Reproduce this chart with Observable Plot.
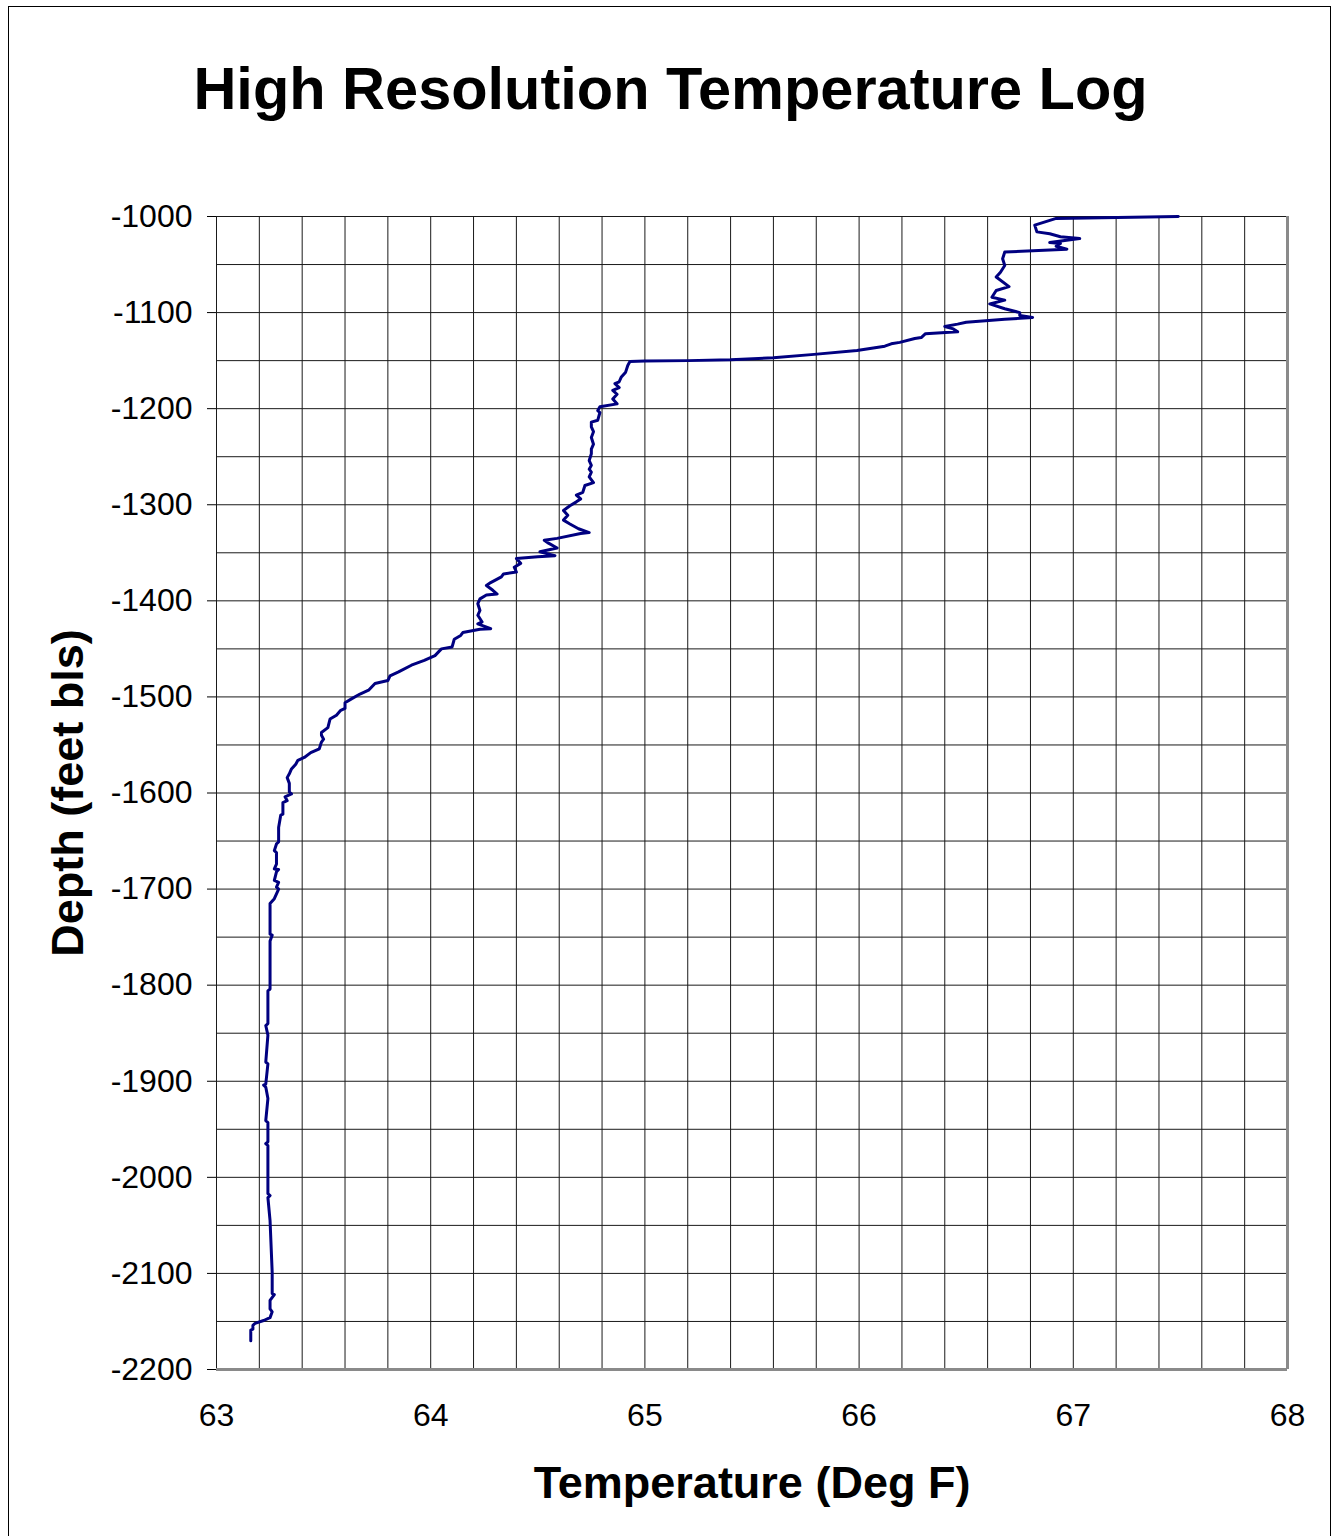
<!DOCTYPE html>
<html><head><meta charset="utf-8">
<script src="https://cdn.jsdelivr.net/npm/d3@7"></script>
<script src="https://cdn.jsdelivr.net/npm/@observablehq/plot@0.6"></script>
<style>
body{margin:0;background:#fff;}
#page{position:relative;width:1337px;height:1536px;overflow:hidden;}
#border{position:absolute;left:8px;top:6px;width:1323px;height:1560px;border:1px solid #000;box-sizing:border-box;}
#chart{position:absolute;left:0;top:0;}
</style></head><body><div id="page"><div id="border"></div><div id="chart"></div></div>
<script>
const titleText = "High Resolution Temperature Log";
const xLabel = "Temperature (Deg F)";
const yLabel = "Depth (feet bls)";
const xTicks = [63, 64, 65, 66, 67, 68];
const yTicks = [-1000, -1100, -1200, -1300, -1400, -1500, -1600, -1700, -1800, -1900, -2000, -2100, -2200];
const xGrid = [63, 63.2, 63.4, 63.6, 63.8, 64, 64.2, 64.4, 64.6, 64.8, 65, 65.2, 65.4, 65.6, 65.8, 66, 66.2, 66.4, 66.6, 66.8, 67, 67.2, 67.4, 67.6, 67.8, 68];
const yGrid = [-1000, -1050, -1100, -1150, -1200, -1250, -1300, -1350, -1400, -1450, -1500, -1550, -1600, -1650, -1700, -1750, -1800, -1850, -1900, -1950, -2000, -2050, -2100, -2150, -2200];

const depth = [-1000,-1002,-1009,-1016,-1018,-1021,-1023,-1027,-1028,-1031,-1034,-1037,-1044,-1051,-1058,-1063,-1073,-1077,-1084,-1087,-1091,-1096,-1100,-1103,-1105,-1107,-1110,-1112,-1114.5,-1117,-1120,-1122,-1126,-1127,-1131,-1132.5,-1135,-1139.5,-1143.5,-1147,-1149,-1150,-1150.5,-1151,
-1155,-1162,-1167,-1172,-1174,-1178,-1181,-1185,-1190,-1195,-1198,-1202,-1204,-1212,-1214,-1219,-1224,-1230,-1237,-1242,-1247,-1254,-1259,-1263,-1266,-1271,-1277,-1280,-1287,-1290,-1294,-1297,-1301,-1306,-1311,-1316,-1320,-1325,-1329,-1330,-1335,-1337,
-1340,-1345,-1349,-1353,-1354,-1356,-1361,-1365,-1370,-1372,-1375,-1381,-1384,-1389,-1393,-1394,-1398,-1403,-1410,-1415,-1422,-1424,-1429,-1429.5,-1433,-1436,-1440,-1448,-1450,-1457,-1462,-1467,-1474,-1478,-1483,-1486,-1493,-1497,-1502,-1506,-1512,-1514,-1519,-1523,-1532,-1537,-1540,-1544,-1547,-1554,-1558,-1563,-1566,-1570,-1575,-1580,-1584,
-1590,-1599,-1601,-1604,-1608,-1610,-1622,-1623,-1636,-1651,-1653,-1660,-1662,-1674,-1679,-1679.5,-1682,-1691,-1693,-1698,-1700,-1705,-1710,-1715,-1747,-1748,-1754,
-1804,-1806,-1840,-1842,-1852,-1880,-1882,-1903,-1904,-1906,-1918,-1941,-1943,-1963,-1965,-1967,-2017,-2019,-2021,-2045,-2099,-2100,-2121,-2122,-2128,-2137,-2140,-2146,-2149,-2152,-2154,-2158,-2159,-2170];
const temp = [67.49,66.92,66.82,66.83,66.89,66.94,67.03,66.89,66.94,66.92,66.97,66.68,66.67,66.68,66.66,66.64,66.70,66.64,66.62,66.68,66.61,66.68,66.75,66.75,66.81,66.68,66.50,66.46,66.40,66.44,66.46,66.31,66.29,66.26,66.19,66.15,66.12,65.99,65.79,65.60,65.40,65.20,65.00,64.93,
64.92,64.91,64.89,64.88,64.86,64.88,64.85,64.87,64.85,64.87,64.79,64.78,64.79,64.78,64.75,64.75,64.76,64.75,64.76,64.75,64.75,64.74,64.75,64.74,64.75,64.74,64.76,64.72,64.71,64.68,64.70,64.68,64.65,64.62,64.64,64.62,64.65,64.69,64.74,64.70,64.59,64.53,
64.55,64.59,64.51,64.58,64.50,64.40,64.42,64.39,64.40,64.34,64.33,64.28,64.26,64.29,64.31,64.26,64.23,64.22,64.23,64.22,64.24,64.22,64.28,64.23,64.15,64.14,64.11,64.10,64.05,64.02,63.97,63.91,63.85,63.81,63.80,63.74,63.71,63.67,63.63,63.60,63.60,63.58,63.56,63.53,63.52,63.49,63.49,63.50,63.49,63.48,63.44,63.41,63.38,63.37,63.35,63.34,63.33,
63.34,63.34,63.35,63.32,63.33,63.31,63.31,63.30,63.29,63.29,63.28,63.27,63.28,63.28,63.27,63.29,63.28,63.27,63.29,63.28,63.29,63.28,63.27,63.25,63.25,63.26,63.25,
63.25,63.24,63.24,63.23,63.24,63.23,63.24,63.23,63.22,63.23,63.24,63.23,63.24,63.24,63.23,63.24,63.24,63.25,63.24,63.25,63.26,63.26,63.26,63.27,63.25,63.25,63.26,63.25,63.22,63.18,63.17,63.17,63.16,63.16];

const data = depth.map((d, i) => ({depth: d, temp: temp[i]}));
const font = "'Liberation Sans', Arial, Helvetica, sans-serif";

const chart = Plot.plot({
  width: 1337,
  height: 1536,
  marginTop: 216,
  marginRight: 50,
  marginBottom: 167,
  marginLeft: 216,
  style: {background: "transparent", fontFamily: font, fontSize: "32px", color: "#000"},
  x: {domain: [xTicks[0], xTicks[xTicks.length - 1]]},
  y: {domain: [yTicks[yTicks.length - 1], yTicks[0]]},
  marks: [
    Plot.ruleX(xGrid, {stroke: "#1a1a1a", strokeWidth: 1}),
    Plot.ruleY(yGrid, {stroke: "#1a1a1a", strokeWidth: 1}),
    Plot.ruleX([xTicks[xTicks.length - 1]], {stroke: "#8a8a8a", strokeWidth: 3}),
    Plot.ruleY([yTicks[yTicks.length - 1]], {stroke: "#8a8a8a", strokeWidth: 3}),
    Plot.axisY(yTicks, {tickSize: 9, tickPadding: 15, tickFormat: d => String(d), label: null, fontSize: 32, stroke: "#000"}),
    Plot.axisX(xTicks, {tickSize: 0, tickPadding: 34, tickFormat: d => String(d), label: null, fontSize: 32}),
    Plot.line(data, {x: "temp", y: "depth", stroke: "#000080", strokeWidth: 3}),
    Plot.text([titleText], {text: d => d, frameAnchor: "top", textAnchor: "middle", dx: -81.5, dy: -108, lineAnchor: "bottom", fontSize: 59.5, fontWeight: "bold"}),
    Plot.text([xLabel], {text: d => d, frameAnchor: "bottom", textAnchor: "middle", dy: 128, lineAnchor: "bottom", fontSize: 45, fontWeight: "bold"}),
    Plot.text([yLabel], {text: d => d, frameAnchor: "left", textAnchor: "middle", rotate: -90, dx: -134, lineAnchor: "bottom", fontSize: 45, fontWeight: "bold"})
  ]
});
document.getElementById("chart").appendChild(chart);
</script>
</body></html>
